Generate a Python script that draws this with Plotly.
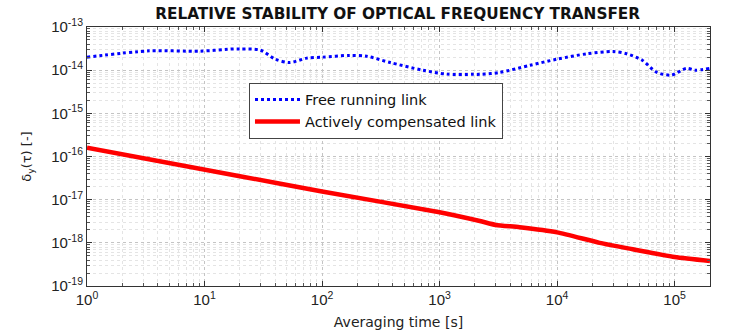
import plotly.graph_objects as go

# Averaging times [s] and Allan deviation of the free running fibre link
tau_free = [1, 3.4, 9.1, 17.5, 20, 30, 40, 53, 74, 100, 170, 240, 380, 720,
            1150, 1900, 2200, 3200, 5900, 1e4, 1.8e4, 3e4, 3.9e4, 5.3e4,
            7e4, 9.4e4, 1.26e5, 1.5e5, 2e5]
free_running = [2.0e-14, 2.8e-14, 2.75e-14, 3.1e-14, 3.1e-14, 2.9e-14,
                1.8e-14, 1.5e-14, 1.9e-14, 2.0e-14, 2.2e-14, 2.1e-14,
                1.5e-14, 1.0e-14, 8.1e-15, 8.0e-15, 8.0e-15, 8.8e-15,
                1.3e-14, 1.8e-14, 2.4e-14, 2.7e-14, 2.4e-14, 1.7e-14,
                9.0e-15, 7.7e-15, 1.1e-14, 1.0e-14, 1.1e-14]

# Allan deviation of the actively compensated link
tau_comp = [1, 20, 100, 1000, 2200, 3000, 4800, 1e4, 2.3e4, 4.4e4, 1e5, 2e5]
compensated = [1.6e-16, 3.5e-17, 1.55e-17, 5.1e-18, 3.2e-18, 2.6e-18,
               2.3e-18, 1.75e-18, 1.0e-18, 7.1e-19, 4.7e-19, 3.8e-19]

x_ticks = [1, 10, 100, 1e3, 1e4, 1e5]
x_ticktext = ["10<sup>0</sup>", "10<sup>1</sup>", "10<sup>2</sup>",
              "10<sup>3</sup>", "10<sup>4</sup>", "10<sup>5</sup>"]
y_ticks = [1e-19, 1e-18, 1e-17, 1e-16, 1e-15, 1e-14, 1e-13]
y_ticktext = ["10<sup>-19</sup>", "10<sup>-18</sup>", "10<sup>-17</sup>",
              "10<sup>-16</sup>", "10<sup>-15</sup>", "10<sup>-14</sup>",
              "10<sup>-13</sup>"]

tick_font = "Liberation Sans, Arial, sans-serif"
text_font = "DejaVu Sans, Verdana, sans-serif"

fig = go.Figure()
fig.add_trace(go.Scatter(
    x=tau_free, y=free_running, mode="lines", name="Free running link",
    line=dict(color="#0000ff", width=3, dash="dot", shape="spline",
              smoothing=0.8)))
fig.add_trace(go.Scatter(
    x=tau_comp, y=compensated, mode="lines", name="Actively compensated link",
    line=dict(color="#ff0000", width=4.5, shape="spline", smoothing=0.6)))

axis_common = dict(
    type="log", showline=True, linecolor="#333333", linewidth=1,
    mirror="ticks", ticks="inside", ticklen=5, tickcolor="#333333",
    showgrid=True, gridcolor="#c4c4c4", gridwidth=1, griddash="dot",
    zeroline=False, automargin=False,
    tickfont=dict(family=tick_font, size=15, color="#222222"),
    minor=dict(ticks="inside", ticklen=3, tickcolor="#555555",
               showgrid=True, gridcolor="#e4e4e4", griddash="dot",
               dtick="D1"),
)

fig.update_xaxes(
    **axis_common, range=[0, 5.30103], tickvals=x_ticks, ticktext=x_ticktext,
    title=dict(text="Averaging time [s]", standoff=15,
               font=dict(family=text_font, size=14, color="#222222")))
fig.update_yaxes(
    **axis_common, range=[-19, -13], tickvals=y_ticks, ticktext=y_ticktext,
    title=dict(text="δ<sub>y</sub>(τ) [-]", standoff=16,
               font=dict(family=text_font, size=13, color="#222222")))

fig.update_layout(
    width=731, height=330,
    margin=dict(l=87, r=21, t=27, b=44),
    paper_bgcolor="white", plot_bgcolor="white",
    title=dict(text="<b>RELATIVE STABILITY OF OPTICAL FREQUENCY TRANSFER</b>",
               x=0.544, xanchor="center", y=0.96, yanchor="middle",
               font=dict(family=text_font, size=15.3, color="#111111")),
    legend=dict(x=0.26, y=0.785, xanchor="left",
                yanchor="top", bgcolor="white", bordercolor="#444444",
                borderwidth=1, font=dict(family=text_font, size=14.5,
                                         color="#111111"),
                itemwidth=45, tracegroupgap=0),
    showlegend=True,
)

fig.write_html("out.html")
